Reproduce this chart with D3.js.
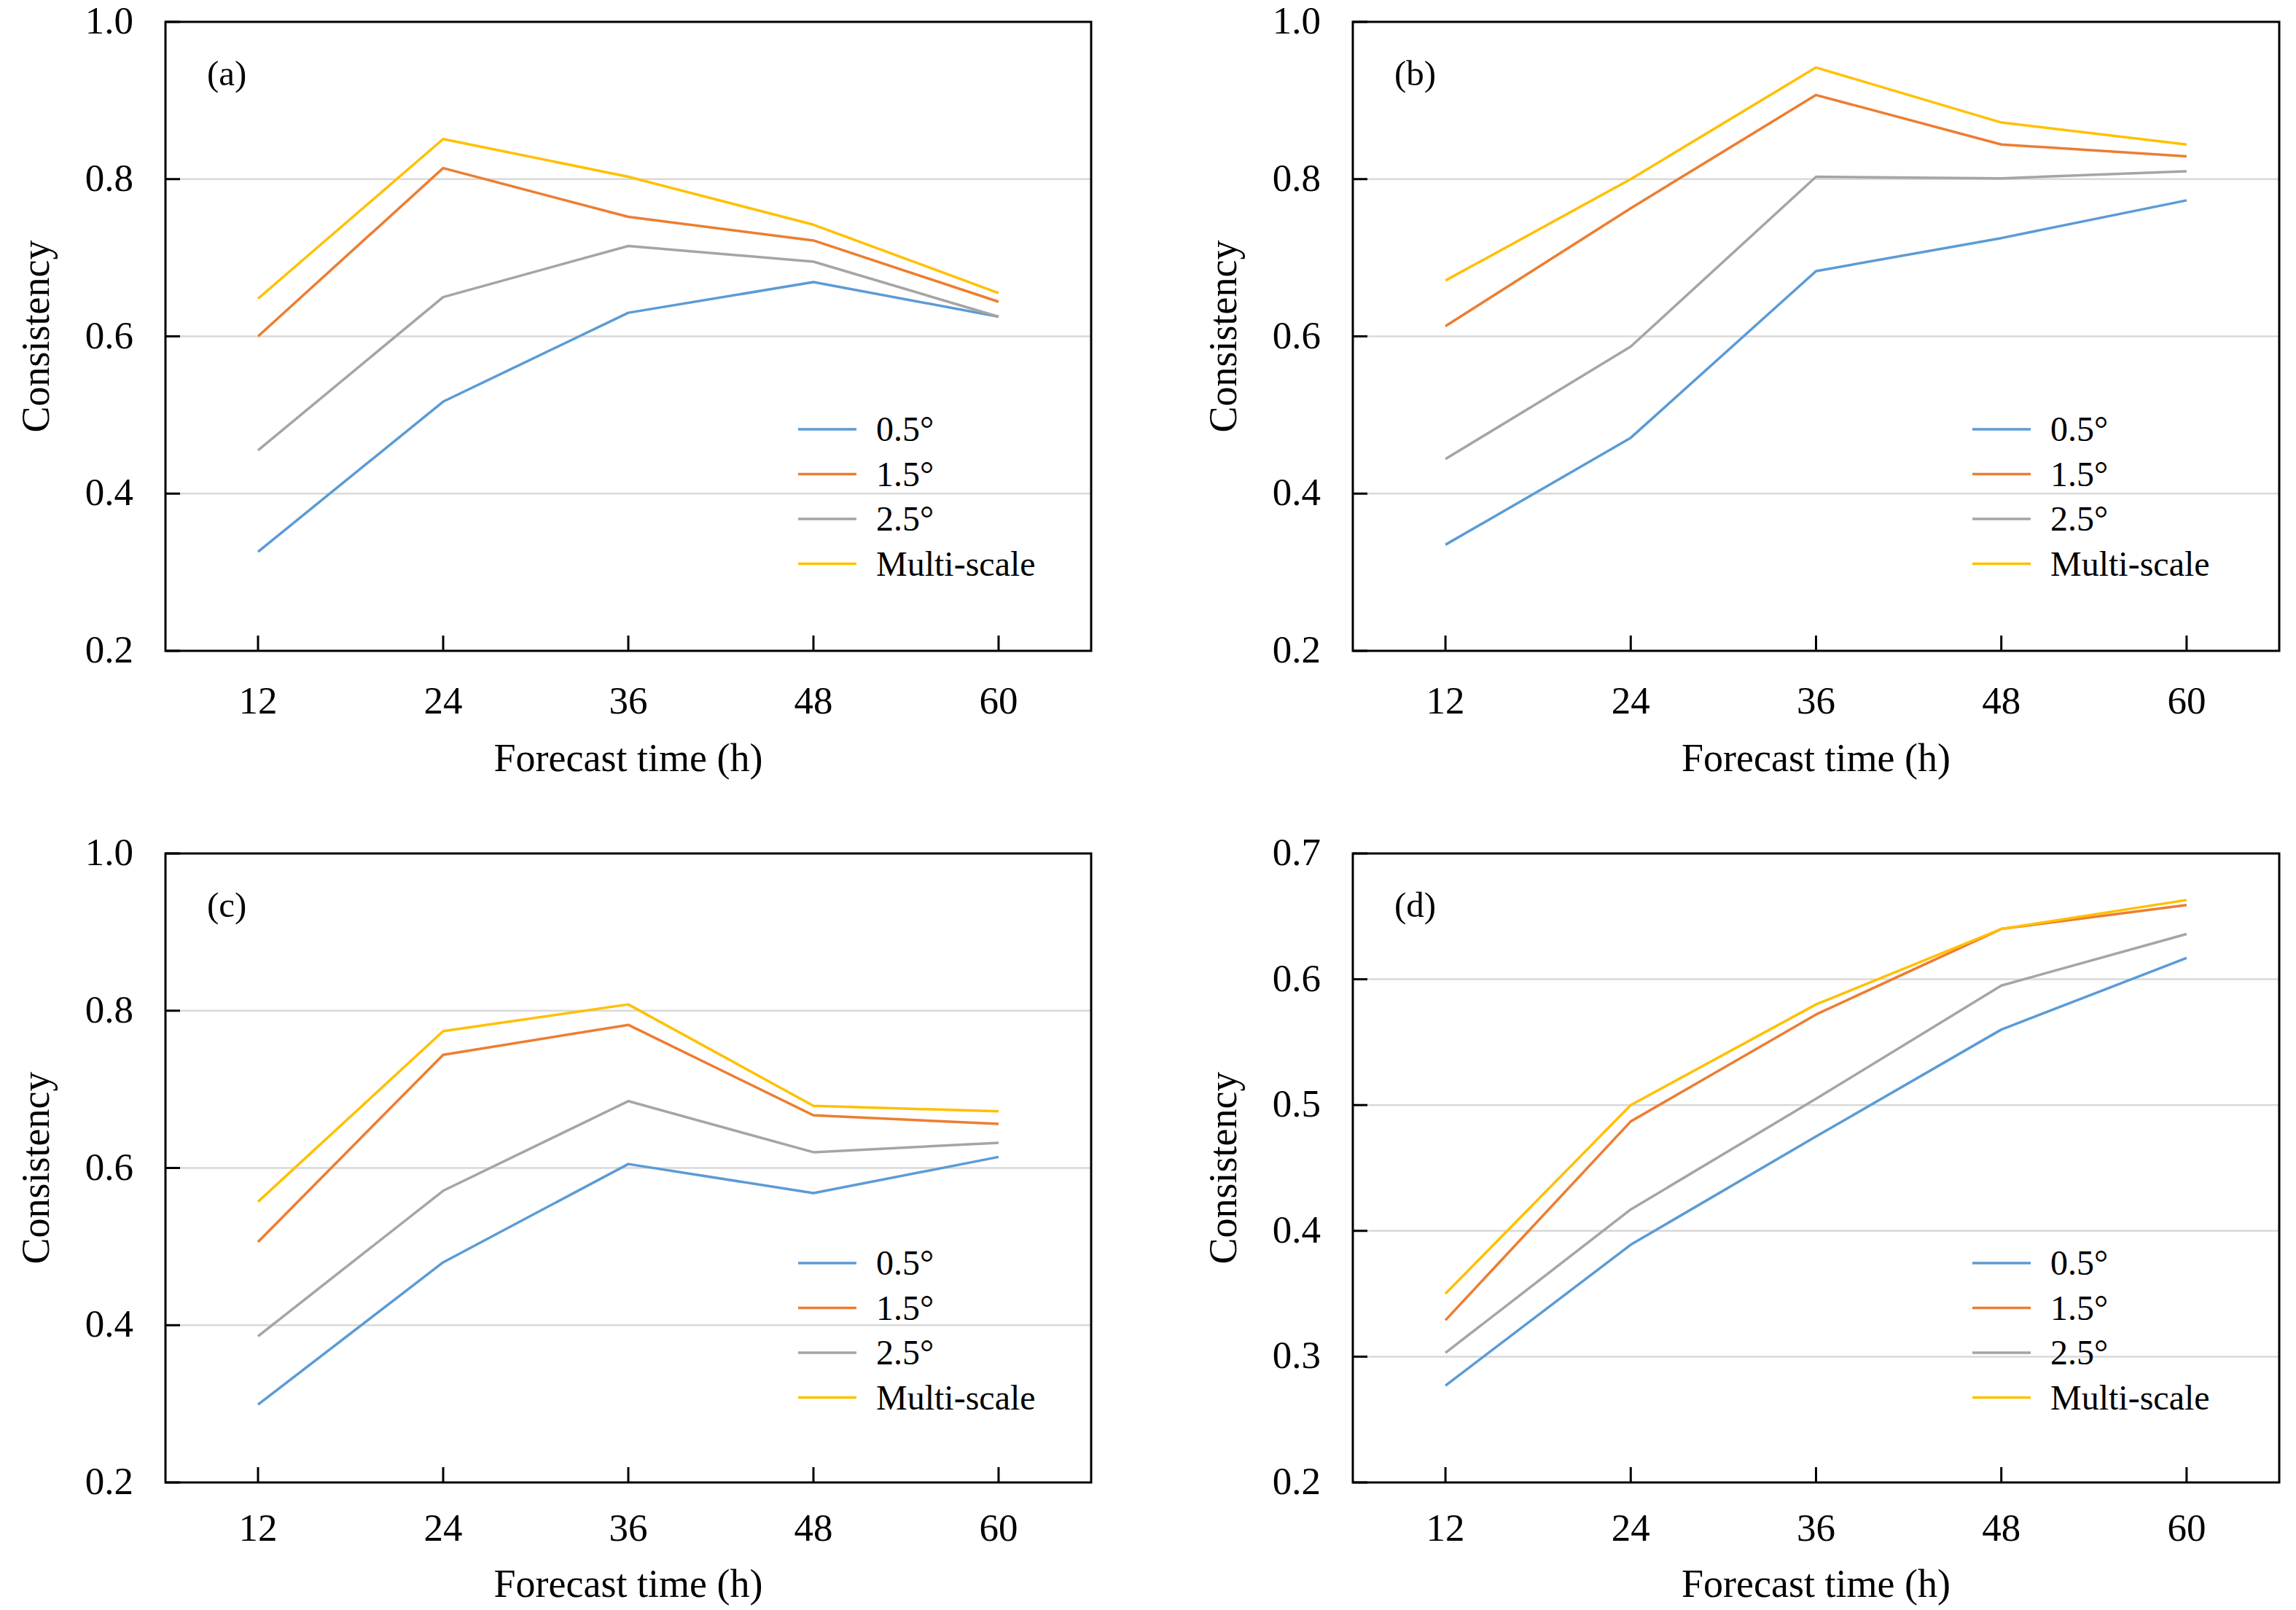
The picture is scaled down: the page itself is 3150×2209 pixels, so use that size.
<!DOCTYPE html>
<html>
<head>
<meta charset="utf-8">
<script src="https://cdn.jsdelivr.net/npm/d3@7"></script>
<style>
  html, body { margin: 0; padding: 0; background: #fff; }
  svg { display: block; }
  text { font-family: "Liberation Serif", "Times New Roman", Tinos, "DejaVu Serif", serif; fill: #000; }
</style>
</head>
<body>
<svg id="chart" width="3150" height="2209" font-family="'Liberation Serif', 'Times New Roman', serif"></svg>
<script>
// ---- Data ----
const hours = [12, 24, 36, 48, 60];
const seriesNames = ["0.5°", "1.5°", "2.5°", "Multi-scale"];
const seriesColors = ["#5B9BD5", "#ED7D31", "#A5A5A5", "#FFC000"];
const panelLabels = ["(a)", "(b)", "(c)", "(d)"];

const a05 = [0.326, 0.517, 0.630, 0.669, 0.625];
const a15 = [0.600, 0.814, 0.752, 0.722, 0.644];
const a25 = [0.455, 0.650, 0.715, 0.695, 0.625];
const aMS = [0.648, 0.851, 0.803, 0.742, 0.655];

const b05 = [0.335, 0.471, 0.683, 0.725, 0.773];
const b15 = [0.613, 0.763, 0.907, 0.844, 0.829];
const b25 = [0.444, 0.587, 0.803, 0.801, 0.810];
const bMS = [0.671, 0.800, 0.942, 0.872, 0.844];

const c05 = [0.299, 0.480, 0.605, 0.568, 0.614];
const c15 = [0.506, 0.744, 0.782, 0.667, 0.656];
const c25 = [0.386, 0.571, 0.685, 0.620, 0.632];
const cMS = [0.557, 0.774, 0.808, 0.679, 0.672];

const d05 = [0.277, 0.389, 0.475, 0.560, 0.617];
const d15 = [0.329, 0.487, 0.572, 0.640, 0.659];
const d25 = [0.303, 0.417, 0.505, 0.595, 0.636];
const dMS = [0.350, 0.500, 0.580, 0.640, 0.663];

const yTicksABC = [0.2, 0.4, 0.6, 0.8, 1.0];
const yTicksD = [0.2, 0.3, 0.4, 0.5, 0.6, 0.7];

const panelSeries = [
  [a05, a15, a25, aMS],
  [b05, b15, b25, bMS],
  [c05, c15, c25, cMS],
  [d05, d15, d25, dMS]
];
const panelYTicks = [yTicksABC, yTicksABC, yTicksABC, yTicksD];

// ---- Layout ----
const panelBoxes = [
  { left: 227, right: 1497, top: 30, bottom: 893, legendX: 1095, legendY: 559, tickLab: 86, title: 165 },
  { left: 1856, right: 3127, top: 30, bottom: 893, legendX: 2706, legendY: 559, tickLab: 86, title: 165 },
  { left: 227, right: 1497, top: 1171, bottom: 2034, legendX: 1095, legendY: 562, tickLab: 80, title: 157 },
  { left: 1856, right: 3127, top: 1171, bottom: 2034, legendX: 2706, legendY: 562, tickLab: 80, title: 157 }
];

const svg = d3.select("#chart");
svg.append("rect").attr("width", 3150).attr("height", 2209).attr("fill", "#fff");

panelBoxes.forEach((box, pi) => {
  const yt = panelYTicks[pi];
  const x = d3.scalePoint().domain(hours).range([box.left, box.right]).padding(0.5);
  const y = d3.scaleLinear().domain([yt[0], yt[yt.length - 1]]).range([box.bottom, box.top]);
  const g = svg.append("g");

  // gridlines (interior only)
  g.selectAll("line.grid").data(yt.slice(1, -1)).enter().append("line")
    .attr("x1", box.left).attr("x2", box.right)
    .attr("y1", d => y(d)).attr("y2", d => y(d))
    .attr("stroke", "#D9D9D9").attr("stroke-width", 2.5);

  // y ticks (inward)
  g.selectAll("line.ytick").data(yt).enter().append("line")
    .attr("x1", box.left).attr("x2", box.left + 20)
    .attr("y1", d => y(d)).attr("y2", d => y(d))
    .attr("stroke", "#000").attr("stroke-width", 3);

  // x ticks (inward)
  g.selectAll("line.xtick").data(hours).enter().append("line")
    .attr("x1", d => x(d)).attr("x2", d => x(d))
    .attr("y1", box.bottom).attr("y2", box.bottom - 21)
    .attr("stroke", "#000").attr("stroke-width", 3);

  // y tick labels
  g.selectAll("text.ylab").data(yt).enter().append("text")
    .attr("x", box.left - 44).attr("y", d => y(d) + 16)
    .attr("text-anchor", "end").attr("font-size", 53)
    .text(d => d.toFixed(1));

  // x tick labels
  g.selectAll("text.xlab").data(hours).enter().append("text")
    .attr("x", d => x(d)).attr("y", box.bottom + box.tickLab)
    .attr("text-anchor", "middle").attr("font-size", 53)
    .text(d => d);

  // axis titles
  g.append("text")
    .attr("x", (box.left + box.right) / 2).attr("y", box.bottom + box.title)
    .attr("text-anchor", "middle").attr("font-size", 54)
    .text("Forecast time (h)");
  const cy = (box.top + box.bottom) / 2;
  const cx = box.left - 160;
  g.append("text")
    .attr("transform", `translate(${cx},${cy}) rotate(-90)`)
    .attr("text-anchor", "middle").attr("font-size", 54)
    .text("Consistency");

  // series lines
  const line = d3.line().x((d, i) => x(hours[i])).y(d => y(d));
  panelSeries[pi].forEach((vals, si) => {
    g.append("path").datum(vals)
      .attr("d", line)
      .attr("fill", "none")
      .attr("stroke", seriesColors[si])
      .attr("stroke-width", 3.5)
      .attr("stroke-linejoin", "round");
  });

  // plot border
  g.append("rect")
    .attr("x", box.left).attr("y", box.top)
    .attr("width", box.right - box.left).attr("height", box.bottom - box.top)
    .attr("fill", "none").attr("stroke", "#000").attr("stroke-width", 3);

  // panel label
  g.append("text")
    .attr("x", box.left + 57).attr("y", box.top + 70)
    .attr("dominant-baseline", "central")
    .attr("font-size", 49)
    .text(panelLabels[pi]);

  // legend
  const lg = g.append("g");
  seriesNames.forEach((name, si) => {
    const ly = box.top + box.legendY + si * 61.5;
    lg.append("line")
      .attr("x1", box.legendX).attr("x2", box.legendX + 80)
      .attr("y1", ly).attr("y2", ly)
      .attr("stroke", seriesColors[si]).attr("stroke-width", 3.5);
    lg.append("text")
      .attr("x", box.legendX + 107).attr("y", ly + 16)
      .attr("font-size", 48)
      .text(name);
  });
});
</script>
</body>
</html>
